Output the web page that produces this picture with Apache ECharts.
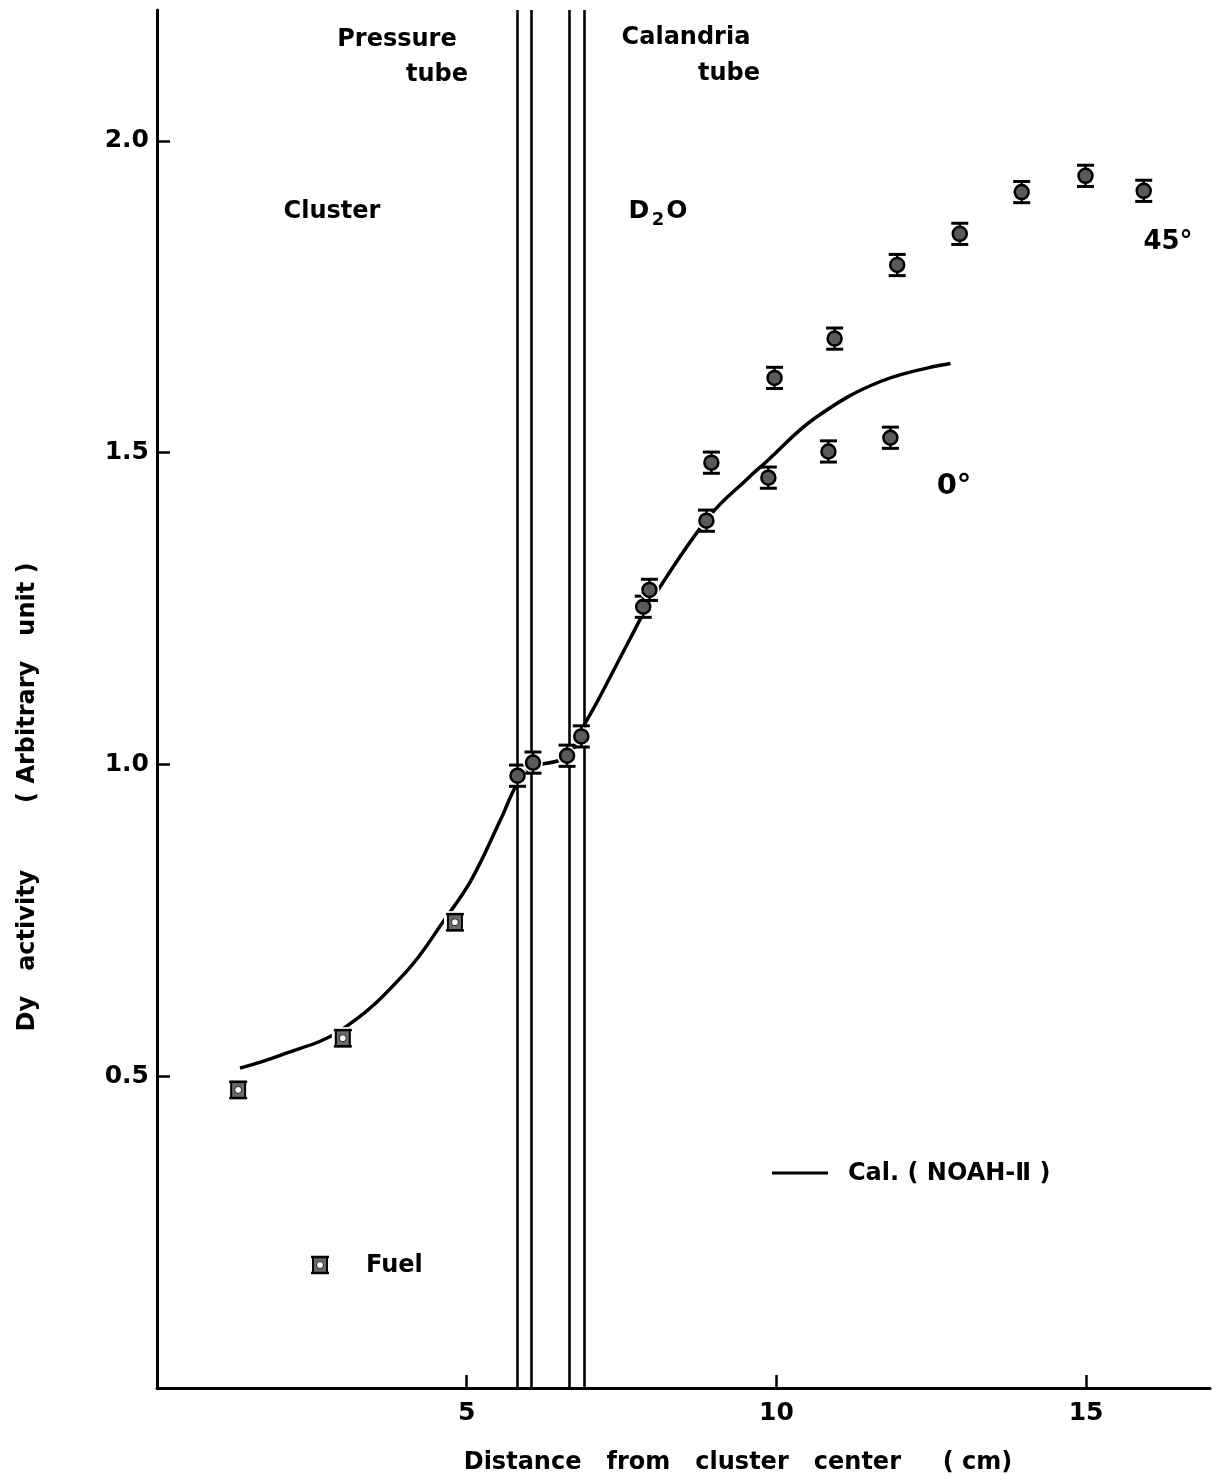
<!DOCTYPE html>
<html>
<head>
<meta charset="utf-8">
<script src="https://cdn.jsdelivr.net/npm/echarts@6/dist/echarts.min.js"></script>
<style>html,body{margin:0;padding:0;background:#fff;}#c{width:1218px;height:1482px;}</style>
</head>
<body>
<div id="c"></div>
<script>
// ---- data ----
const fuelX = [1.31, 3.00, 4.81];
const fuelY = [0.478, 0.561, 0.747];
const fuelErr = [0.013, 0.013, 0.013];

const d2oX = [5.82, 6.07, 6.62, 6.85, 7.85, 7.95, 8.87, 8.95, 9.87, 9.97, 10.84, 10.94, 11.84, 11.95, 12.96, 13.96, 14.99, 15.93];
const d2oY = [0.982, 1.003, 1.014, 1.045, 1.253, 1.280, 1.391, 1.484, 1.460, 1.620, 1.502, 1.683, 1.524, 1.801, 1.851, 1.918, 1.944, 1.920];
const d2oErr = [0.017, 0.017, 0.017, 0.017, 0.017, 0.017, 0.017, 0.017, 0.017, 0.017, 0.017, 0.017, 0.017, 0.017, 0.017, 0.017, 0.017, 0.017];

const calX = [1.34, 2.00, 2.97, 4.00, 4.67, 5.07, 5.54, 5.82, 6.04, 6.48, 6.66, 6.88, 7.12, 7.64, 7.93, 8.90, 9.55, 9.82, 10.63, 11.70, 12.81];
const calY = [0.513, 0.534, 0.574, 0.665, 0.755, 0.814, 0.910, 0.970, 0.995, 1.006, 1.015, 1.060, 1.103, 1.202, 1.255, 1.396, 1.460, 1.484, 1.556, 1.615, 1.643];

const tubeWalls = [5.82, 6.04, 6.66, 6.90];
const xTicks = [5, 10, 15];
const yTicks = [0.5, 1.0, 1.5, 2.0];
const xRange = [0, 17];
const yRange = [0, 2.21];

// ---- chart ----
const FONT = 'DejaVu Sans';
const chart = echarts.init(document.getElementById('c'), null, {renderer: 'canvas'});

function renderD2O(params, api) {
  const x = api.value(0), y = api.value(1), e = api.value(2);
  const c = api.coord([x, y]);
  const t = api.coord([x, y + e]);
  const b = api.coord([x, y - e]);
  return {
    type: 'group',
    children: [
      {type: 'circle', shape: {cx: c[0], cy: c[1], r: 10}, style: {fill: '#fff'}},
      {type: 'line', shape: {x1: c[0], y1: t[1], x2: c[0], y2: b[1]}, style: {stroke: '#000', lineWidth: 2.5}},
      {type: 'line', shape: {x1: c[0] - 8.5, y1: t[1], x2: c[0] + 8.5, y2: t[1]}, style: {stroke: '#000', lineWidth: 3}},
      {type: 'line', shape: {x1: c[0] - 8.5, y1: b[1], x2: c[0] + 8.5, y2: b[1]}, style: {stroke: '#000', lineWidth: 3}},
      {type: 'circle', shape: {cx: c[0], cy: c[1], r: 7}, style: {fill: '#5a5a5a', stroke: '#000', lineWidth: 2.5}}
    ]
  };
}

function renderFuel(params, api) {
  const x = api.value(0), y = api.value(1), e = api.value(2);
  const c = api.coord([x, y]);
  const t = api.coord([x, y + e]);
  const b = api.coord([x, y - e]);
  return {
    type: 'group',
    children: [
      {type: 'rect', shape: {x: c[0] - 11, y: t[1] - 3, width: 22, height: b[1] - t[1] + 6}, style: {fill: '#fff'}},
      {type: 'rect', shape: {x: c[0] - 7, y: t[1], width: 14, height: b[1] - t[1]}, style: {fill: '#6a6a6a', stroke: '#000', lineWidth: 2}},
      {type: 'line', shape: {x1: c[0] - 9, y1: t[1], x2: c[0] + 9, y2: t[1]}, style: {stroke: '#000', lineWidth: 2.5}},
      {type: 'line', shape: {x1: c[0] - 9, y1: b[1], x2: c[0] + 9, y2: b[1]}, style: {stroke: '#000', lineWidth: 2.5}},
      {type: 'circle', shape: {cx: c[0], cy: c[1], r: 3.5}, style: {fill: '#fff', stroke: '#222', lineWidth: 1}}
    ]
  };
}

const txt = (left, top, text, size, align) => ({
  type: 'text', x: left, y: top,
  style: {text: text, font: 'bold ' + size + 'px ' + FONT, fill: '#000', textAlign: align || 'center', textVerticalAlign: 'middle'}
});

const option = {
  backgroundColor: '#fff',
  animation: false,
  grid: {left: 157, right: 8, top: 10, bottom: 94, containLabel: false},
  xAxis: {
    type: 'value', min: xRange[0], max: xRange[1],
    axisLine: {show: true, onZero: false, lineStyle: {color: '#000', width: 3}},
    axisTick: {show: true, inside: true, length: 13, customValues: xTicks, lineStyle: {color: '#000', width: 2.5}},
    axisLabel: {show: true, customValues: xTicks, margin: 13, color: '#000', fontFamily: FONT, fontWeight: 'bold', fontSize: 25},
    splitLine: {show: false}
  },
  yAxis: {
    type: 'value', min: yRange[0], max: yRange[1],
    axisLine: {show: true, onZero: false, lineStyle: {color: '#000', width: 3}},
    axisTick: {show: true, inside: true, length: 13, customValues: yTicks, lineStyle: {color: '#000', width: 2.5}},
    axisLabel: {show: true, customValues: yTicks, margin: 8, color: '#000', fontFamily: FONT, fontWeight: 'bold', fontSize: 25,
      formatter: v => v.toFixed(1)},
    splitLine: {show: false}
  },
  series: [
    {
      type: 'line', name: 'Cal. (NOAH-II)',
      data: calX.map((x, i) => [x, calY[i]]),
      smooth: 0.4, showSymbol: false, symbol: 'none',
      lineStyle: {color: '#000', width: 3.5}, z: 2,
      markLine: {
        silent: true, symbol: 'none', label: {show: false},
        lineStyle: {color: '#000', width: 2.6, type: 'solid'},
        data: tubeWalls.map(v => ({xAxis: v}))
      }
    },
    {
      type: 'custom', name: 'D2O', renderItem: renderD2O, z: 5,
      data: d2oX.map((x, i) => [x, d2oY[i], d2oErr[i]])
    },
    {
      type: 'custom', name: 'Fuel', renderItem: renderFuel, z: 5,
      data: fuelX.map((x, i) => [x, fuelY[i], fuelErr[i]])
    }
  ],
  graphic: [
    txt(397, 40, 'Pressure', 24),
    txt(437, 75, 'tube', 24),
    txt(686, 38, 'Calandria', 24),
    txt(729, 74, 'tube', 24),
    txt(332, 212, 'Cluster', 24),
    txt(639, 211, 'D', 25),
    txt(658, 220, '2', 18),
    txt(677, 211, 'O', 25),
    txt(1168, 242, '45°', 26),
    txt(954, 486, '0°', 29),
    {type: 'line', shape: {x1: 772, y1: 1173, x2: 828, y2: 1173}, style: {stroke: '#000', lineWidth: 3}},
    txt(848, 1174, 'Cal. ( NOAH-Ⅱ )', 24, 'left'),
    {type: 'rect', shape: {x: 313, y: 1257, width: 14, height: 16}, style: {fill: '#6a6a6a', stroke: '#000', lineWidth: 2}},
    {type: 'line', shape: {x1: 311, y1: 1257, x2: 329, y2: 1257}, style: {stroke: '#000', lineWidth: 2.5}},
    {type: 'line', shape: {x1: 311, y1: 1273, x2: 329, y2: 1273}, style: {stroke: '#000', lineWidth: 2.5}},
    {type: 'circle', shape: {cx: 320, cy: 1265, r: 3.5}, style: {fill: '#fff', stroke: '#222', lineWidth: 1}},
    txt(366, 1266, 'Fuel', 24, 'left'),
    txt(738, 1463, 'Distance   from   cluster   center     ( cm)', 24),
    {type: 'text', x: 28, y: 797, rotation: Math.PI / 2,
      style: {text: 'Dy   activity        ( Arbitrary   unit )', font: 'bold 24px ' + FONT, fill: '#000', textAlign: 'center', textVerticalAlign: 'middle'}}
  ]
};
chart.setOption(option);
</script>
</body>
</html>
